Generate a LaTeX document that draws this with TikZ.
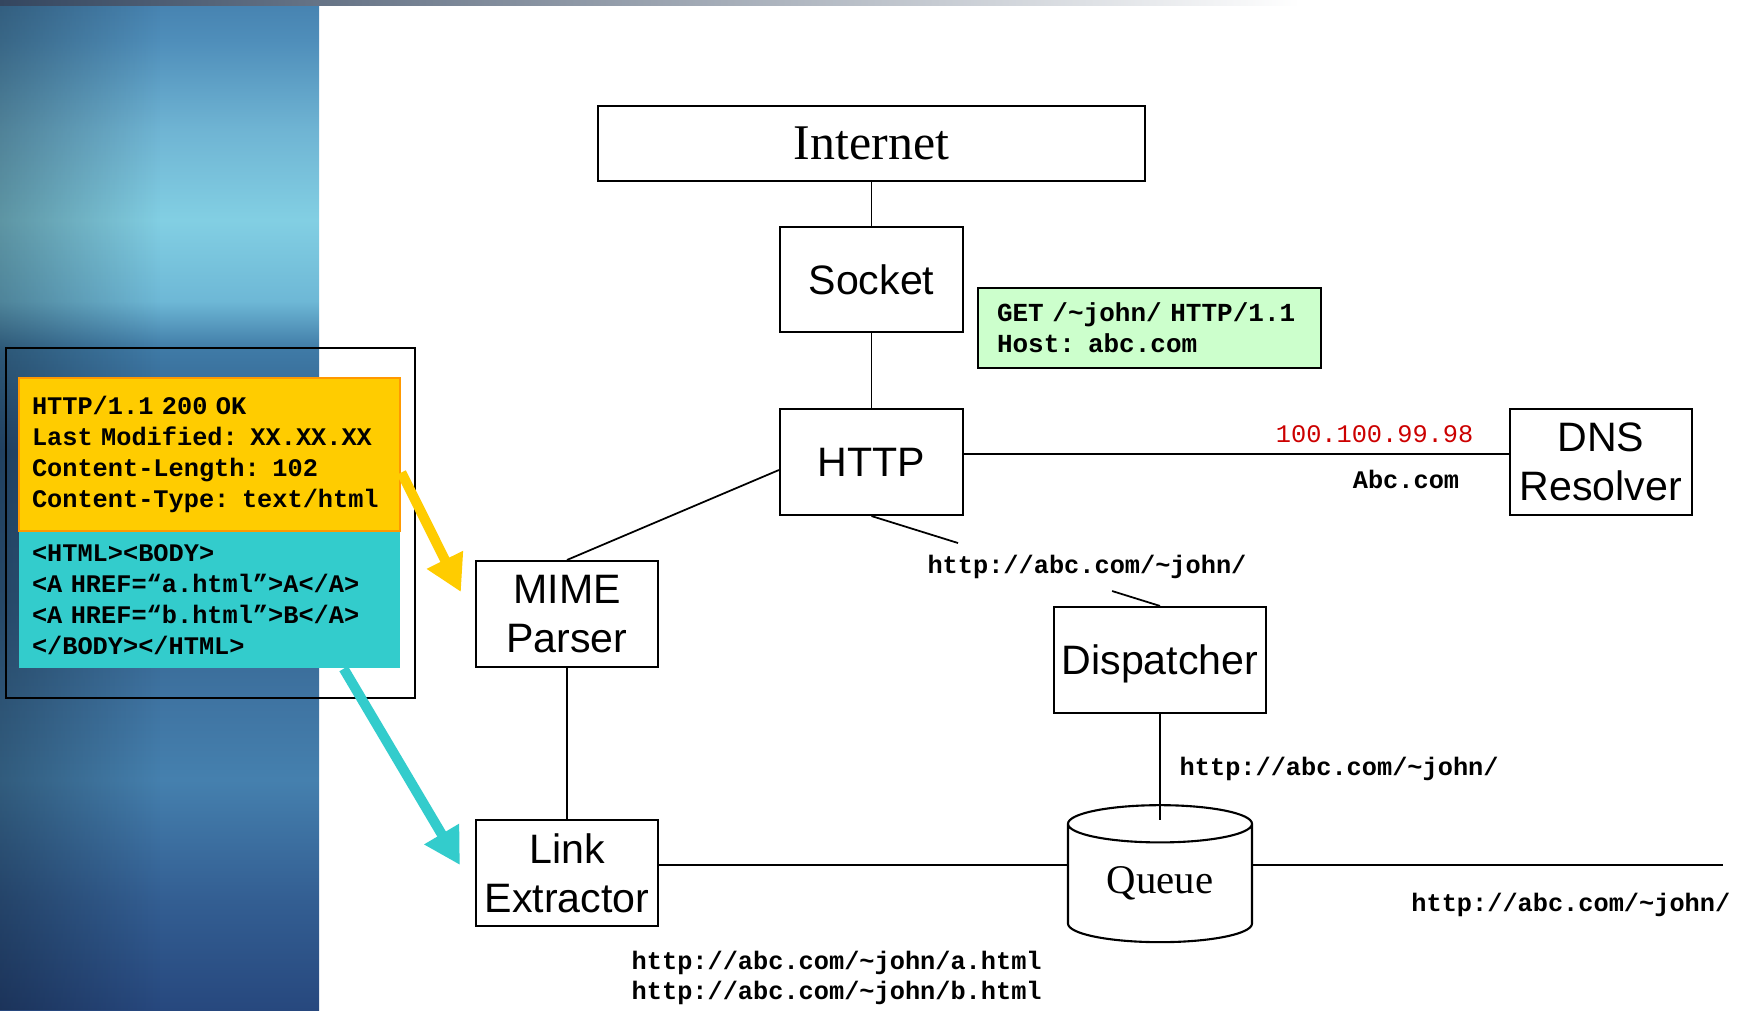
\documentclass[tikz,border=0pt]{standalone}
\usepackage{fontspec}
\setmainfont{Liberation Sans}
\setmonofont{Liberation Mono}
\newfontfamily\seriffam{Liberation Serif}
\usetikzlibrary{arrows.meta,shapes.geometric,calc,fadings}

\definecolor{hdryellow}{HTML}{FFCC00}
\definecolor{hdrborder}{HTML}{FF9900}
\definecolor{bodycyan}{HTML}{33CCCC}
\definecolor{reqgreen}{HTML}{CCFFCC}
\definecolor{ipred}{HTML}{CC0000}
\definecolor{stripdark}{HTML}{34465F}
\definecolor{pnlA}{HTML}{27487E}
\definecolor{pnlB}{HTML}{335E92}
\definecolor{pnlC}{HTML}{4580AE}
\definecolor{pnlD}{HTML}{3F74A2}
\definecolor{pnlE}{HTML}{35648F}
\definecolor{pnlF}{HTML}{2E5A86}
\definecolor{pnlG}{HTML}{3F7AA6}
\definecolor{pnlH}{HTML}{6EB8D6}
\definecolor{pnlI}{HTML}{82CFE3}
\definecolor{pnlJ}{HTML}{6FB4D3}
\definecolor{pnlK}{HTML}{4F8EBA}
\definecolor{pnlL}{HTML}{4682B0}

\pgfdeclareverticalshading{panelshade}{100bp}{color(0bp)=(pnlA); color(25bp)=(pnlA);
  color(30.4bp)=(pnlB); color(36.4bp)=(pnlC); color(40.3bp)=(pnlD); color(45.3bp)=(pnlE);
  color(52.7bp)=(pnlF); color(57.7bp)=(pnlG); color(60.1bp)=(pnlH); color(64.1bp)=(pnlI);
  color(68.6bp)=(pnlJ); color(73bp)=(pnlK); color(75bp)=(pnlL); color(100bp)=(pnlL)}
\tikzfading[name=edgefade, left color=transparent!72, right color=transparent!100]

\tikzset{
  box/.style={draw, line width=0.6pt, rectangle, inner sep=0pt, align=center,
    font=\fontsize{11.7}{13.9}\selectfont},
  store/.style={cylinder, shape border rotate=90, draw, line width=0.6pt, aspect=0.35,
    inner sep=0pt, font=\seriffam\fontsize{11.6}{14}\selectfont},
  url/.style={inner sep=0pt, font=\ttfamily\bfseries\fontsize{7.2}{8.76}\selectfont},
  wire/.style={line width=0.5pt},
  fatarrow/.style={line width=1mm, -{Triangle[width=3.8mm,length=3.6mm]}},
}

\begin{document}
\begin{tikzpicture}
  % \clip (0,0) rectangle (17.430000,-10.100000);
  \useasboundingbox (0,0) rectangle (17.430000,-10.100000);%

  % Drawing side panel
  \fill [white] (0,0) rectangle (17.430000,-10.100000);%
  \shade [shading=panelshade] (0,0) rectangle (3.190000,-10.100000);%
  \fill [black, path fading=edgefade] (0,0) rectangle (1.600000,-10.100000);%
  \shade [left color=stripdark, right color=white] (0,0) rectangle (13.000000,-0.050000);%

  % Drawing frame round the response
  \draw [line width=0.6pt] (0.060000,-3.480000) rectangle (4.150000,-6.980000);%

  % Marking response body
  \node [url, fill=bodycyan, minimum width=3.810000cm, minimum height=1.370000cm,
    text width=3.550000cm, align=left] (body) at (2.095000,-5.995000)
    {<HTML><BODY>\\<A HREF=“a.html”>A</A>\\<A HREF=“b.html”>B</A>\\</BODY></HTML>};%

  % Marking response header
  \node [url, draw=hdrborder, line width=0.8pt, fill=hdryellow, minimum width=3.810000cm,
    minimum height=1.530000cm, text width=3.550000cm, align=left] (header) at (2.095000,-4.545000)
    {HTTP/1.1 200 OK\\Last Modified: XX.XX.XX\\Content-Length: 102\\Content-Type: text/html};%

  % Marking box internet
  \node [box, minimum width=5.470000cm, minimum height=0.750000cm,
    font=\seriffam\fontsize{14.2}{17}\selectfont] (internet) at (8.715000,-1.435000) {Internet};%

  % Marking box socket
  \node [box, minimum width=1.830000cm, minimum height=1.050000cm] (socket) at (8.715000,-2.795000) {Socket};%

  % Marking box http
  \node [box, minimum width=1.830000cm, minimum height=1.060000cm] (http) at (8.715000,-4.620000) {HTTP};%

  % Marking request
  \node [url, draw, line width=0.6pt, fill=reqgreen, minimum width=3.430000cm, minimum height=0.800000cm,
    text width=3.050000cm, align=left, font=\ttfamily\bfseries\fontsize{7.4}{8.76}\selectfont]
    (request) at (11.495000,-3.280000) {GET /\textasciitilde john/ HTTP/1.1\\Host: abc.com};%

  % Marking box dns
  \node [box, minimum width=1.820000cm, minimum height=1.060000cm] (dns) at (16.010000,-4.620000) {DNS\\Resolver};%

  % Marking box mime
  \node [box, minimum width=1.820000cm, minimum height=1.060000cm] (mime) at (5.670000,-6.140000) {MIME\\Parser};%

  % Marking box link
  \node [box, minimum width=1.820000cm, minimum height=1.060000cm] (link) at (5.670000,-8.730000) {Link\\Extractor};%

  % Marking box dispatcher
  \node [box, minimum width=2.120000cm, minimum height=1.060000cm, text depth=0pt] (dispatcher) at (11.600000,-6.600000) {Dispatcher};%

  % Marking queue
  \node [store, minimum width=1.840000cm, minimum height=1.370000cm] (queue) at (11.600000,-8.835000) {Queue};%

  % Drawing segment internet socket
  \draw [wire] (internet) -- (socket);%

  % Drawing segment socket http
  \draw [wire] (socket) -- (http);%

  % Drawing segment http dns
  \draw [wire] ([yshift=0.08cm]http.east) -- ([yshift=0.08cm]dns.west);%

  % Drawing segment http mime
  \draw [wire] ([yshift=-0.08cm]http.west) -- (mime.north);%

  % Drawing segment http dispatcher
  \draw [wire] (http.south) -- ($(http.south)!0.300000!(dispatcher.north)$);%
  \draw [wire] ($(http.south)!0.834000!(dispatcher.north)$) -- (dispatcher.north);%

  % Drawing segment dispatcher queue
  \draw [wire] (dispatcher.south) -- ([yshift=-0.155cm]queue.top);%

  % Drawing segment mime link
  \draw [wire] (mime) -- (link);%

  % Drawing segment link queue
  \draw [wire] ([yshift=0.08cm]link.east) -- ([yshift=0.08cm]link.east -| queue.west);%

  % Drawing segment queue out
  \coordinate (feedout) at (17.230000,-8.650000);%
  \draw [wire] (feedout -| queue.east) -- (feedout);%

  % Marking point ip
  \node [url, font=\ttfamily\fontsize{7.2}{8.76}\selectfont, text=ipred, anchor=east] (ip) at (14.740000,-4.340000) {100.100.99.98};%

  % Marking point host
  \node [url] (host) at (14.060000,-4.790000) {Abc.com};%

  % Marking point fetched
  \node [url] (fetched) at (10.870000,-5.670000) {http://abc.com/\textasciitilde john/};%

  % Marking point dispatched
  \node [url, anchor=west] (dispatched) at (11.790000,-7.690000) {http://abc.com/\textasciitilde john/};%

  % Marking point queued
  \node [url, anchor=east] (queued) at (17.310000,-9.050000) {http://abc.com/\textasciitilde john/};%

  % Marking point extracted
  \node [url, anchor=west, align=left] (extracted) at (6.310000,-9.780000)
    {http://abc.com/\textasciitilde john/a.html\\http://abc.com/\textasciitilde john/b.html};%

  % Drawing arrow header mime
  \draw [fatarrow, hdryellow] ([yshift=-0.18cm]header.east) -- ($(mime.west)+(-0.140000,0.220000)$);%

  % Drawing arrow body link
  \draw [fatarrow, bodycyan] ([xshift=-0.57cm]body.south east) -- ($(link.west)+(-0.150000,0.080000)$);%
\end{tikzpicture}
\end{document}
